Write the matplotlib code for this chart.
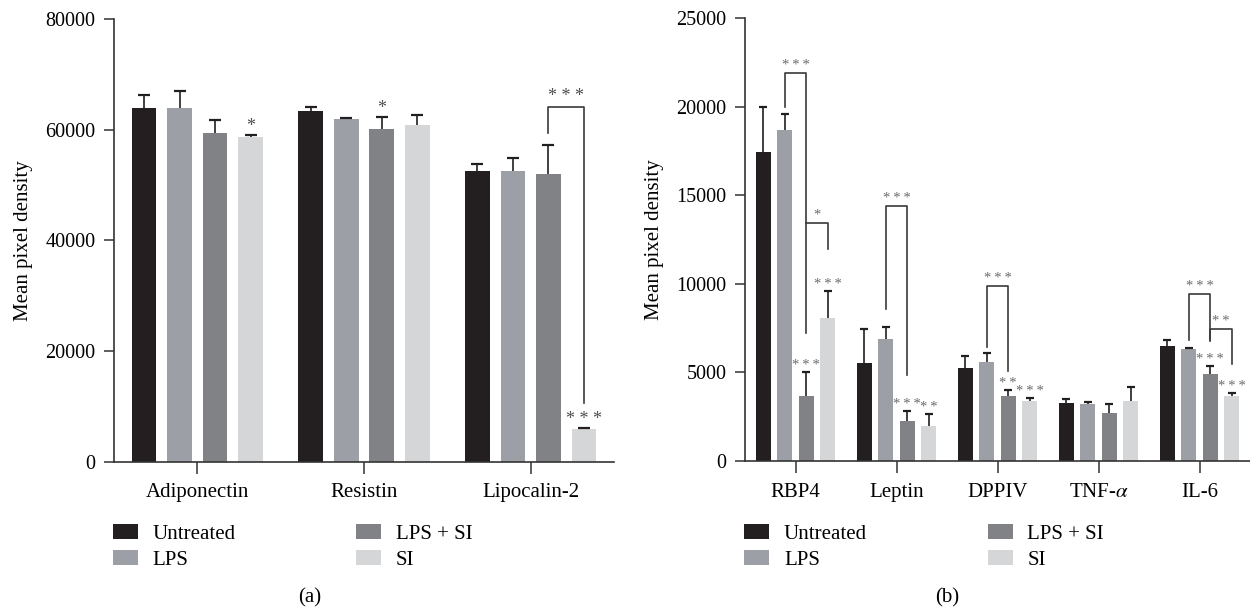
import numpy as np
import matplotlib
matplotlib.use('Agg')
import matplotlib.pyplot as plt

plt.rcParams['font.family'] = ['Liberation Serif', 'DejaVu Serif']
plt.rcParams['mathtext.fontset'] = 'stix'

# ---- data -------------------------------------------------------------
series = ['Untreated', 'LPS', 'LPS + SI', 'SI']
colors = ['#231f20', '#9d9fa6', '#818285', '#d5d6d8']

cats_a = ['Adiponectin', 'Resistin', 'Lipocalin-2']
mean_a = {
    'Untreated': [63950, 63350, 52500],
    'LPS':       [64000, 61850, 52550],
    'LPS + SI':  [59450, 60200, 52000],
    'SI':        [58600, 60900, 5850],
}
err_a = {
    'Untreated': [2400, 700, 1250],
    'LPS':       [2900, 300, 2300],
    'LPS + SI':  [2350, 2100, 5300],
    'SI':        [350, 1700, 250],
}

cats_b = ['RBP4', 'Leptin', 'DPPIV', r'TNF-$\alpha$', 'IL-6']
mean_b = {
    'Untreated': [17430, 5550, 5250, 3250, 6510],
    'LPS':       [18710, 6900, 5570, 3220, 6340],
    'LPS + SI':  [3690, 2240, 3690, 2710, 4910],
    'SI':        [8070, 2000, 3400, 3400, 3690],
}
err_b = {
    'Untreated': [2560, 1900, 680, 260, 320],
    'LPS':       [900, 680, 550, 110, 30],
    'LPS + SI':  [1350, 600, 340, 530, 470],
    'SI':        [1520, 650, 150, 770, 170],
}

# significance marks above single bars: (group, series index, number of stars)
stars_a = [(0, 3, 1), (1, 2, 1), (2, 3, 3)]
stars_b = [(0, 2, 3), (0, 3, 3), (1, 2, 3), (1, 3, 2),
           (2, 2, 2), (2, 3, 3), (4, 2, 3), (4, 3, 3)]

# brackets: (group, left bar, right bar, top, left bottom, right bottom, stars)
brackets_a = [(2, 2, 3, 64150, 59450, 10600, 3)]
brackets_b = [(0, 1, 2, 21900, 20000, 7250, 3),
              (0, 2, 3, 13450, 13450, 11950, 1),
              (1, 1, 2, 14400, 8570, 4860, 3),
              (2, 1, 2, 9880, 6460, 5100, 3),
              (4, 1, 2, 9430, 6830, 6790, 3),
              (4, 2, 3, 7440, 6830, 5480, 2)]

PITCH = 0.213
AX_COL = '#333333'
ERR_COL = '#231f20'


def draw_panel(ax, cats, means, errs, width, capsize, ymax, ystep,
               stars, brackets, star_fs, star_col, sep):
    idx = np.arange(len(cats))
    for j, s in enumerate(series):
        x = idx + (j - 1.5) * PITCH
        m = np.array(means[s])
        e = np.array(errs[s])
        ax.bar(x, m, width, color=colors[j], label=s, zorder=2)
        # upper error bars only
        ax.vlines(x, m, m + e, color=ERR_COL, lw=1.2, zorder=3)
        ax.plot(x, m + e, ls='none', marker='_', ms=capsize, mew=1.6,
                color=ERR_COL, zorder=3)
    for g, j, n in stars:
        s = series[j]
        ax.annotate(sep.join('*' * n), (g + (j - 1.5) * PITCH, means[s][g] + errs[s][g]),
                    xytext=(0, 0), textcoords='offset points',
                    ha='center', va='bottom', fontsize=star_fs, color=star_col)
    for g, j1, j2, top, b1, b2, n in brackets:
        x1 = g + (j1 - 1.5) * PITCH
        x2 = g + (j2 - 1.5) * PITCH
        ax.plot([x1, x1, x2, x2], [b1, top, top, b2], color='#3a3a3a', lw=1.2)
        ax.annotate(sep.join('*' * n), ((x1 + x2) / 2, top), xytext=(0, 1),
                    textcoords='offset points', ha='center', va='bottom',
                    fontsize=star_fs, color=star_col)
    ax.set_xlim(-0.5, len(cats) - 0.5)
    ax.set_ylim(0, ymax)
    ax.set_yticks(np.arange(0, ymax + 1, ystep))
    ax.set_xticks(idx)
    ax.set_xticklabels(cats, fontsize=15)
    ax.tick_params(axis='y', labelsize=14.5, length=7.2, width=1.1,
                   color=AX_COL, pad=6)
    ax.tick_params(axis='x', length=8.5, width=1.1, color=AX_COL, pad=7)
    for side in ['top', 'right']:
        ax.spines[side].set_visible(False)
    for side in ['left', 'bottom']:
        ax.spines[side].set_color(AX_COL)
        ax.spines[side].set_linewidth(1.2)
        ax.spines[side].set_zorder(4)
    ax.set_ylabel('Mean pixel density', fontsize=15, va='center')
    ax.yaxis.set_label_coords(-0.18, 0.5)


fig = plt.figure(figsize=(12.5, 6.12), dpi=100)
ax_a = fig.add_axes([0.0912, 0.2456, 0.400, 0.7234])
ax_b = fig.add_axes([0.596, 0.2467, 0.404, 0.7234])

draw_panel(ax_a, cats_a, mean_a, err_a, 0.148, 9, 80000, 20000,
           stars_a, brackets_a, 13, '#4d4d4f', ' ')
draw_panel(ax_b, cats_b, mean_b, err_b, 0.153, 6, 25000, 5000,
           stars_b, brackets_b, 10.5, '#6a6b6d', '\u2009')

for ax, x0, tag, xt in [(ax_a, 112.7, '(a)', 310), (ax_b, 744.3, '(b)', 946.7)]:
    ax.legend(loc='upper left', bbox_to_anchor=(x0 / 1250, 1 - 524 / 612),
              bbox_transform=fig.transFigure, ncol=2, frameon=False,
              fontsize=15, borderpad=0, borderaxespad=0,
              handlelength=1.2, handleheight=0.75, handletextpad=0.7,
              columnspacing=5.8, labelspacing=0.3)
    fig.text(xt / 1250, 1 - 598 / 612, tag, fontsize=15, ha='center', va='center')

fig.savefig('out.png', dpi=100)
